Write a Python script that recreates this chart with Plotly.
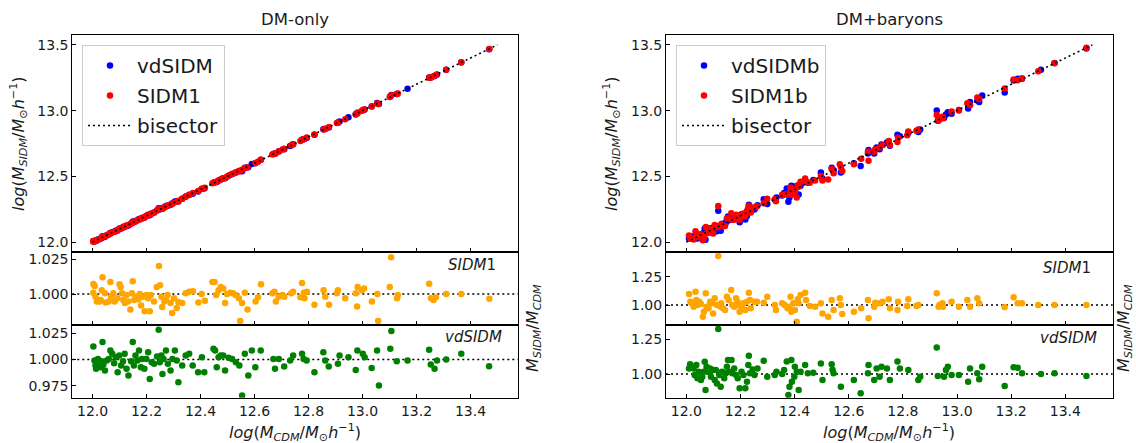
import numpy as np
import plotly.graph_objects as go

# ---------------- data ----------------
# DM-only : log M_CDM of matched haloes and mass ratio M_SIDM/M_CDM
L_SIDM1_X = [12.003, 12.008, 12.003, 12.011, 12.016, 12.026, 12.034, 12.037, 12.030, 12.046,
             12.049, 12.060, 12.066, 12.069, 12.077, 12.082, 12.092, 12.100, 12.104, 12.109,
             12.114, 12.120, 12.126, 12.132, 12.140, 12.146, 12.149, 12.154, 12.160, 12.170,
             12.175, 12.180, 12.188, 12.193, 12.200, 12.206, 12.212, 12.216, 12.228, 12.238,
             12.246, 12.250, 12.255, 12.258, 12.266, 12.272, 12.278, 12.289, 12.295, 12.302,
             12.312, 12.318, 12.332, 12.345, 12.358, 12.372, 12.392, 12.404, 12.416, 12.444,
             12.452, 12.458, 12.467, 12.475, 12.484, 12.491, 12.498, 12.510, 12.520, 12.530,
             12.542, 12.547, 12.554, 12.564, 12.574, 12.604, 12.613, 12.624, 12.666, 12.674,
             12.679, 12.690, 12.704, 12.710, 12.736, 12.743, 12.770, 12.776, 12.783, 12.785,
             12.794, 12.822, 12.856, 12.862, 12.876, 12.905, 12.909, 12.936, 12.975, 12.980,
             12.982, 12.998, 13.006, 13.035, 13.055, 13.058, 13.101, 13.106, 13.128, 13.131,
             13.247, 13.254, 13.263, 13.272, 13.310, 13.366, 13.470]
L_SIDM1_R = [1.0072, 1.0058, 1.0010, 0.9980, 0.9946, 0.9946, 1.0028, 1.0121, 0.9958, 1.0005,
             0.9939, 0.9946, 1.0086, 0.9980, 1.0005, 0.9946, 0.9970, 1.0070, 1.0050, 1.0005,
             0.9958, 0.9935, 0.9993, 0.9946, 0.9888, 1.0005, 1.0093, 0.9958, 0.9980, 0.9963,
             1.0000, 0.9918, 0.9980, 0.9876, 0.9993, 0.9970, 0.9876, 0.9993, 0.9946, 1.0051,
             1.0203, 1.0063, 0.9980, 0.9907, 0.9946, 0.9958, 0.9993, 0.9935, 0.9864, 0.9970,
             0.9900, 0.9942, 0.9935, 1.0005, 1.0016, 1.0020, 0.9939, 1.0000, 0.9951, 1.0086,
             1.0086, 0.9993, 1.0028, 1.0051, 1.0040, 0.9935, 1.0000, 1.0010, 1.0005, 0.9993,
             0.9970, 0.9806, 0.9935, 1.0010, 0.9888, 0.9946, 0.9977, 1.0070, 1.0005, 1.0016,
             0.9946, 0.9980, 0.9993, 0.9980, 1.0005, 1.0016, 0.9977, 1.0079, 1.0010, 0.9970,
             1.0016, 0.9923, 1.0028, 0.9980, 0.9923, 1.0005, 1.0028, 0.9970, 1.0005, 0.9911,
             1.0051, 1.0028, 1.0040, 0.9946, 1.0000, 0.9806, 1.0051, 1.0266, 0.9970, 0.9993,
             1.0075, 0.9970, 0.9958, 0.9977, 1.0000, 1.0000, 0.9967]

L_VD_X = [12.003, 12.007, 12.011, 12.013, 12.020, 12.024, 12.029, 12.033, 12.037, 12.040,
          12.046, 12.053, 12.060, 12.066, 12.073, 12.080, 12.086, 12.093, 12.099, 12.106,
          12.113, 12.119, 12.126, 12.133, 12.143, 12.149, 12.153, 12.159, 12.166, 12.172,
          12.179, 12.183, 12.192, 12.199, 12.206, 12.212, 12.219, 12.228, 12.239, 12.245,
          12.249, 12.255, 12.259, 12.263, 12.272, 12.279, 12.289, 12.296, 12.305, 12.312,
          12.318, 12.332, 12.345, 12.358, 12.371, 12.391, 12.405, 12.414, 12.448, 12.454,
          12.460, 12.467, 12.475, 12.484, 12.491, 12.504, 12.517, 12.531, 12.544, 12.554,
          12.564, 12.577, 12.590, 12.603, 12.623, 12.670, 12.676, 12.690, 12.710, 12.732,
          12.743, 12.776, 12.782, 12.793, 12.822, 12.855, 12.862, 12.875, 12.909, 12.915,
          12.948, 12.975, 12.981, 13.001, 13.008, 13.034, 13.054, 13.061, 13.103, 13.107,
          13.127, 13.167, 13.247, 13.253, 13.267, 13.276, 13.310, 13.366, 13.469]
L_VD_R = [1.0124, 0.9990, 0.9943, 0.9911, 1.0006, 0.9959, 0.9927, 0.9984, 1.0166, 0.9952,
          0.9895, 0.9990, 1.0006, 1.0086, 1.0054, 0.9965, 1.0022, 0.9879, 1.0038, 0.9943,
          0.9984, 1.0054, 0.9911, 0.9847, 0.9984, 1.0166, 0.9943, 1.0038, 0.9990, 1.0086,
          0.9927, 1.0006, 0.9911, 1.0006, 1.0070, 0.9815, 0.9975, 0.9959, 1.0029, 1.0283,
          0.9975, 1.0038, 0.9863, 1.0006, 1.0086, 0.9959, 0.9895, 1.0006, 1.0086, 0.9990,
          0.9783, 0.9943, 1.0038, 1.0054, 0.9943, 0.9879, 1.0022, 0.9879, 1.0102, 1.0086,
          0.9927, 1.0022, 1.0038, 1.0038, 0.9895, 1.0016, 1.0006, 0.9975, 0.9943, 0.9656,
          1.0054, 0.9847, 1.0086, 0.9927, 1.0086, 1.0006, 0.9911, 1.0006, 0.9933, 0.9990,
          1.0038, 1.0054, 1.0006, 0.9990, 0.9879, 1.0070, 0.9990, 0.9933, 0.9959, 1.0038,
          1.0022, 0.9901, 1.0086, 1.0054, 1.0022, 0.9920, 1.0086, 0.9752, 1.0102, 1.0271,
          0.9984, 0.9990, 1.0092, 0.9952, 0.9911, 0.9990, 1.0000, 1.0054, 0.9936]

# DM+baryons
R_SIDM1_X = [12.010, 12.015, 12.020, 12.027, 12.034, 12.037, 12.041, 12.048, 12.054, 12.061,
             12.065, 12.072, 12.075, 12.082, 12.088, 12.095, 12.099, 12.105, 12.113, 12.118,
             12.127, 12.129, 12.136, 12.143, 12.150, 12.156, 12.166, 12.170, 12.177, 12.184,
             12.189, 12.195, 12.197, 12.204, 12.211, 12.218, 12.224, 12.231, 12.235, 12.238,
             12.252, 12.261, 12.286, 12.299, 12.327, 12.331, 12.354, 12.363, 12.374, 12.381,
             12.385, 12.388, 12.395, 12.401, 12.408, 12.412, 12.415, 12.422, 12.439, 12.442,
             12.456, 12.476, 12.497, 12.503, 12.524, 12.537, 12.544, 12.567, 12.571, 12.576,
             12.619, 12.646, 12.671, 12.673, 12.694, 12.698, 12.714, 12.725, 12.748, 12.752,
             12.780, 12.782, 12.816, 12.820, 12.850, 12.857, 12.925, 12.932, 12.935, 12.946,
             12.948, 12.980, 13.007, 13.038, 13.048, 13.075, 13.082, 13.176, 13.209, 13.224,
             13.240, 13.300, 13.360, 13.478]
R_SIDM1_R = [1.097, 1.029, 1.015, 0.985, 1.118, 1.044, 1.000, 1.029, 1.009, 0.897,
             0.941, 1.103, 0.985, 0.971, 1.029, 1.015, 0.926, 1.059, 1.000, 1.432,
             0.985, 1.015, 0.971, 0.956, 1.074, 1.044, 1.132, 1.000, 0.985, 1.059,
             1.029, 1.000, 0.941, 0.985, 1.015, 0.956, 1.029, 1.109, 1.044, 0.971,
             1.029, 1.029, 1.021, 1.074, 1.000, 0.956, 1.015, 1.000, 0.971, 0.985,
             1.074, 0.941, 1.015, 0.956, 0.853, 1.050, 1.015, 1.088, 1.109, 1.044,
             0.991, 0.985, 1.015, 0.926, 0.897, 1.044, 0.956, 1.059, 1.000, 0.921,
             0.941, 0.971, 1.044, 0.882, 0.985, 1.021, 1.015, 1.029, 1.050, 0.971,
             0.956, 1.029, 0.991, 1.050, 0.991, 1.000, 1.103, 0.985, 1.000, 1.015,
             0.985, 1.029, 0.985, 1.044, 0.985, 1.059, 1.015, 0.982, 1.068, 1.015,
             1.015, 1.000, 1.000, 1.000]

R_VD_X = [12.010, 12.014, 12.018, 12.027, 12.031, 12.037, 12.041, 12.045, 12.048, 12.054,
          12.059, 12.064, 12.068, 12.071, 12.075, 12.082, 12.088, 12.091, 12.099, 12.105,
          12.109, 12.113, 12.118, 12.122, 12.127, 12.132, 12.140, 12.146, 12.150, 12.154,
          12.159, 12.167, 12.170, 12.177, 12.184, 12.190, 12.197, 12.204, 12.211, 12.218,
          12.224, 12.229, 12.231, 12.235, 12.245, 12.252, 12.263, 12.286, 12.299, 12.327,
          12.333, 12.354, 12.361, 12.371, 12.377, 12.381, 12.388, 12.390, 12.399, 12.401,
          12.408, 12.415, 12.422, 12.439, 12.449, 12.469, 12.497, 12.503, 12.537, 12.540,
          12.544, 12.571, 12.619, 12.644, 12.671, 12.673, 12.694, 12.703, 12.714, 12.721,
          12.741, 12.752, 12.780, 12.789, 12.820, 12.857, 12.864, 12.925, 12.929, 12.952,
          12.959, 12.966, 12.980, 13.007, 13.041, 13.048, 13.075, 13.082, 13.093, 13.176,
          13.209, 13.224, 13.240, 13.310, 13.360, 13.478]
R_VD_R = [1.040, 1.070, 1.050, 1.040, 0.993, 1.064, 0.969, 1.017, 0.993, 0.957,
          0.981, 1.017, 1.088, 0.886, 1.052, 1.017, 1.040, 0.981, 1.029, 0.957,
          1.029, 0.933, 1.321, 0.993, 0.910, 1.017, 0.969, 1.005, 1.052, 1.100,
          1.017, 1.100, 1.005, 1.040, 0.993, 0.969, 0.898, 1.017, 0.993, 0.898,
          0.945, 1.064, 1.130, 1.005, 1.033, 0.993, 1.040, 1.095, 0.981, 0.993,
          1.017, 1.000, 1.029, 1.090, 0.850, 0.910, 1.100, 0.945, 0.981, 1.052,
          1.017, 0.886, 1.017, 1.064, 1.005, 1.010, 1.076, 0.957, 1.070, 1.030,
          1.005, 0.910, 0.957, 0.862, 1.005, 1.064, 0.957, 1.040, 0.981, 1.052,
          1.040, 0.957, 1.090, 1.040, 1.029, 0.957, 0.981, 1.190, 0.986, 0.981,
          1.029, 1.052, 0.993, 0.993, 0.945, 1.040, 1.005, 0.962, 1.052, 0.914,
          1.048, 1.045, 1.005, 1.000, 1.005, 0.986]

BISECTOR = [12.0, 13.5]
X_TICKS = [12.0, 12.2, 12.4, 12.6, 12.8, 13.0, 13.2, 13.4]
Y_TICKS_TOP = [12.0, 12.5, 13.0, 13.5]

# ---------------- figure ----------------
FONT = "DejaVu Sans"
TXT = "#1a1a1a"
W, H = 1136, 443

def px_x(p):
    return p / W

def px_y(p):
    return 1 - p / H

L_DOM = [px_x(72.3), px_x(517.7)]
R_DOM = [px_x(666), px_x(1112.7)]
TOP_DOM = [px_y(252), px_y(35)]
R1_DOM = [px_y(325), px_y(252)]
R2_DOM = [px_y(397.7), px_y(325)]

fig = go.Figure()

def top_y(x, r):
    return list(np.array(x) + np.log10(np.array(r)))

MS = 6.5
panels = [
    dict(leg="legend", vx=L_VD_X, vr=L_VD_R, sx=L_SIDM1_X, sr=L_SIDM1_R,
         names=("vdSIDM", "SIDM1")),
    dict(leg="legend2", vx=R_VD_X, vr=R_VD_R, sx=R_SIDM1_X, sr=R_SIDM1_R,
         names=("vdSIDMb", "SIDM1b")),
]
for i, p in enumerate(panels):
    k = 1 if i == 0 else 4
    xa_top, xa_r1, xa_r2 = f"x{'' if k == 1 else k}", f"x{k+1}", f"x{k+2}"
    ya_top, ya_r1, ya_r2 = f"y{'' if k == 1 else k}", f"y{k+1}", f"y{k+2}"
    fig.add_trace(go.Scatter(x=p["vx"], y=top_y(p["vx"], p["vr"]), mode="markers",
                             marker=dict(color="blue", size=MS), name=p["names"][0],
                             legend=p["leg"], legendgroup=f"a{i}", xaxis=xa_top, yaxis=ya_top))
    fig.add_trace(go.Scatter(x=p["sx"], y=top_y(p["sx"], p["sr"]), mode="markers",
                             marker=dict(color="red", size=MS), name=p["names"][1],
                             legend=p["leg"], legendgroup=f"b{i}", xaxis=xa_top, yaxis=ya_top))
    fig.add_trace(go.Scatter(x=BISECTOR, y=BISECTOR, mode="lines",
                             line=dict(color="black", width=1.6, dash="2px,3px"), name="bisector",
                             legend=p["leg"], legendgroup=f"c{i}", xaxis=xa_top, yaxis=ya_top))
    fig.add_trace(go.Scatter(x=p["sx"], y=p["sr"], mode="markers",
                             marker=dict(color="orange", size=MS), showlegend=False,
                             xaxis=xa_r1, yaxis=ya_r1))
    fig.add_trace(go.Scatter(x=p["vx"], y=p["vr"], mode="markers",
                             marker=dict(color="green", size=MS), showlegend=False,
                             xaxis=xa_r2, yaxis=ya_r2))
    for ya, xa in ((ya_r1, xa_r1), (ya_r2, xa_r2)):
        fig.add_shape(type="line", xref=f"{xa} domain", yref=ya, x0=0, x1=1, y0=1.0, y1=1.0,
                      line=dict(color="black", width=1.6, dash="2px,3px"), layer="below")

axis_common = dict(showline=True, linecolor="black", linewidth=1, mirror=True,
                   ticks="inside", ticklen=4, tickwidth=1, tickcolor="black",
                   showgrid=False, zeroline=False,
                   tickfont=dict(family=FONT, size=14, color=TXT))

layout = dict(width=W, height=H, margin=dict(l=0, r=0, t=0, b=0),
              paper_bgcolor="white", plot_bgcolor="white", showlegend=True)

yranges = {
    1: ([11.925, 13.575], Y_TICKS_TOP, ".1f"),
    2: ([0.9777, 1.0303], [0.975, 1.0, 1.025], ".3f"),
    3: ([0.9636, 1.0329], [0.975, 1.0, 1.025], ".3f"),
    4: ([11.925, 13.575], Y_TICKS_TOP, ".1f"),
    5: ([0.8235, 1.468], [0.75, 1.0, 1.25], ".2f"),
    6: ([0.831, 1.35], [0.75, 1.0, 1.25], ".2f"),
}
for n in range(1, 7):
    xdom = L_DOM if n <= 3 else R_DOM
    ydom = [TOP_DOM, R1_DOM, R2_DOM][(n - 1) % 3]
    sfx = "" if n == 1 else str(n)
    layout[f"xaxis{sfx}"] = dict(axis_common, domain=xdom, range=[11.925, 13.575],
                                 anchor=f"y{sfx}", tickvals=X_TICKS, tickformat=".1f",
                                 showticklabels=(n % 3 == 0))
    rng, tv, fmt = yranges[n]
    layout[f"yaxis{sfx}"] = dict(axis_common, domain=ydom, range=rng, anchor=f"x{sfx}",
                                 tickvals=tv, tickformat=fmt)

leg_common = dict(xanchor="left", yanchor="top", font=dict(family=FONT, size=20, color=TXT),
                  bgcolor="rgba(255,255,255,0.8)", bordercolor="#cccccc", borderwidth=1,
                  itemwidth=44, tracegroupgap=1)
layout["legend"] = dict(leg_common, x=px_x(82), y=px_y(45))
layout["legend2"] = dict(leg_common, x=px_x(676), y=px_y(45))
fig.update_layout(**layout)

ylab = "<i>log</i>(<i>M</i><sub><i>SIDM</i></sub>/<i>M</i><sub>⊙</sub><i>h</i><sup>−1</sup>)"
xlab = "<i>log</i>(<i>M</i><sub><i>CDM</i></sub>/<i>M</i><sub>⊙</sub><i>h</i><sup>−1</sup>)"
rlab = "<i>M</i><sub><i>SIDM</i></sub>/<i>M</i><sub><i>CDM</i></sub>"

def ann(text, x, y, size, angle=0, xanchor="center"):
    fig.add_annotation(text=text, x=x, y=y, xref="paper", yref="paper", showarrow=False,
                       textangle=angle, xanchor=xanchor, yanchor="middle",
                       font=dict(family=FONT, size=size, color=TXT))

for dom, title, ylx, rlx in ((L_DOM, "DM-only", 18, 533), (R_DOM, "DM+baryons", 611, 1124)):
    cx = (dom[0] + dom[1]) / 2
    ann(title, cx, px_y(19), 16.5)
    ann(xlab, cx, px_y(432), 16)
    ann(ylab, px_x(ylx), px_y(144), 16, angle=-90)
    ann(rlab, px_x(rlx), px_y(328), 16, angle=-90)

ann("<i>SIDM</i>1", px_x(498), px_y(265), 15, xanchor="right")
ann("<i>vdSIDM</i>", px_x(504), px_y(337), 15, xanchor="right")
ann("<i>SIDM</i>1", px_x(1093), px_y(268), 15, xanchor="right")
ann("<i>vdSIDM</i>", px_x(1099), px_y(338), 15, xanchor="right")

fig.write_html("out.html")
